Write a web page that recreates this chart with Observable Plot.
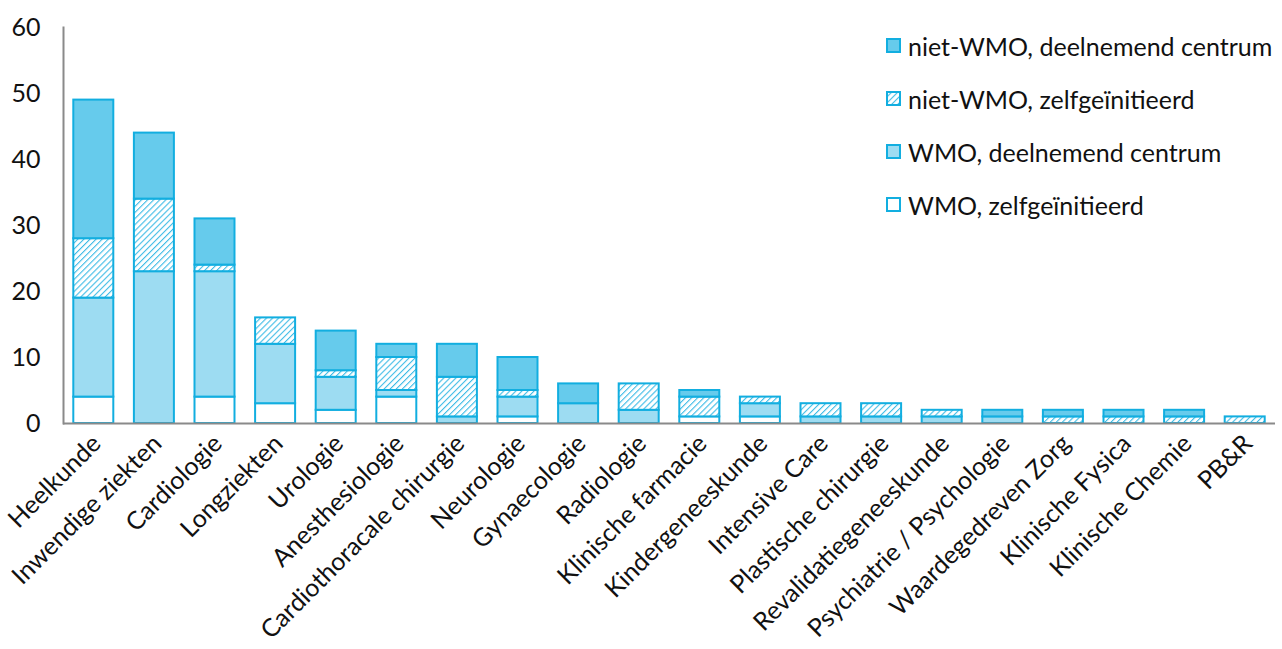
<!DOCTYPE html>
<html>
<head>
<meta charset="utf-8">
<script src="https://cdn.jsdelivr.net/npm/d3@7"></script>
<script src="https://cdn.jsdelivr.net/npm/@observablehq/plot@0.6"></script>
<style>
  html, body { margin: 0; padding: 0; background: #fff; }
  #wrap { position: relative; width: 1282px; height: 649px; font-family: Lato, "Open Sans", sans-serif; }
  #legend { position: absolute; left: 886px; top: 19px; font-size: 25px; color: #111; }
  #legend .row { display: flex; align-items: center; height: 53px; }
  #legend svg { margin-right: 7px; }
</style>
</head>
<body>
<div id="wrap"><div id="chart"></div><div id="legend"></div></div>
<script>
const categories = ["Heelkunde","Inwendige ziekten","Cardiologie","Longziekten","Urologie","Anesthesiologie","Cardiothoracale chirurgie","Neurologie","Gynaecologie","Radiologie","Klinische farmacie","Kindergeneeskunde","Intensive Care","Plastische chirurgie","Revalidatiegeneeskunde","Psychiatrie / Psychologie","Waardegedreven Zorg","Klinische Fysica","Klinische Chemie","PB&R"];
const seriesNames = ["WMO, zelfgeïnitieerd","WMO, deelnemend centrum","niet-WMO, zelfgeïnitieerd","niet-WMO, deelnemend centrum"];
const wmoZelf  = [4, 0, 4, 3, 2, 4, 0, 1, 0, 0, 1, 1, 0, 0, 0, 0, 0, 0, 0, 0];
const wmoDeel  = [15,23,19, 9, 5, 1, 1, 3, 3, 2, 0, 2, 1, 1, 1, 1, 0, 0, 0, 0];
const nietZelf = [9, 11, 1, 4, 1, 5, 6, 1, 0, 4, 3, 1, 2, 2, 1, 0, 1, 1, 1, 1];
const nietDeel = [21,10, 7, 0, 6, 2, 5, 5, 3, 0, 1, 0, 0, 0, 0, 1, 1, 1, 1, 0];
const yTicks = [0, 10, 20, 30, 40, 50, 60];

const fills = ["#ffffff", "#9DDCF2", "url(#hatch)", "#66CBEC"];
const strokeColor = "#12AEE0";

const seriesValues = [wmoZelf, wmoDeel, nietZelf, nietDeel];
const rows = [];
categories.forEach((c, i) => {
  seriesValues.forEach((vals, s) => {
    if (vals[i] > 0) rows.push({cat: c, series: seriesNames[s], value: vals[i]});
  });
});

const chart = Plot.plot({
  width: 1282,
  height: 649,
  marginLeft: 63,
  marginRight: 7,
  marginTop: 27,
  marginBottom: 226,
  style: {fontFamily: "Lato, 'Open Sans', sans-serif", color: "#111", background: "transparent"},
  x: {domain: categories, paddingInner: 0.34, paddingOuter: 0.17, round: false, label: null},
  y: {domain: [0, 60], label: null},
  color: {type: "ordinal", domain: seriesNames, range: fills},
  marks: [
    Plot.barY(rows, Plot.stackY({
      x: "cat", y: "value", fill: "series", order: seriesNames,
      stroke: strokeColor, strokeWidth: 2
    })),
    Plot.axisY({ticks: yTicks, tickSize: 0, tickPadding: 23, fontSize: 25, label: null}),
    Plot.axisX({tickSize: 0, tickRotate: -45, fontSize: 25, tickPadding: 16, dx: 3, label: null}),
    Plot.ruleY([0], {stroke: "#8a8a8a", strokeWidth: 2}),
    Plot.frame({anchor: "left", stroke: "#8a8a8a", strokeWidth: 2})
  ]
});

// hatch pattern definition
const svg = d3.select(chart);
const defs = svg.insert("defs", ":first-child");
const pat = defs.append("pattern")
  .attr("id", "hatch")
  .attr("patternUnits", "userSpaceOnUse")
  .attr("width", 4.3).attr("height", 4.3)
  .attr("patternTransform", "rotate(45)");
pat.append("rect").attr("width", 4.3).attr("height", 4.3).attr("fill", "#ffffff");
pat.append("line").attr("x1", 0).attr("y1", 0).attr("x2", 0).attr("y2", 4.3)
  .attr("stroke", "#3DBBE6").attr("stroke-width", 2.2);

document.getElementById("chart").appendChild(chart);

// legend (top-right, inside plot area), order as in reference
const legendOrder = [3, 2, 1, 0];
const legend = d3.select("#legend");
legendOrder.forEach(i => {
  const row = legend.append("div").attr("class", "row");
  const s = row.append("svg").attr("width", 15).attr("height", 15);
  s.append("rect").attr("x", 1).attr("y", 1).attr("width", 13).attr("height", 13)
    .attr("fill", fills[i]).attr("stroke", strokeColor).attr("stroke-width", 2);
  row.append("span").text(seriesNames[i]);
});
</script>
</body>
</html>
